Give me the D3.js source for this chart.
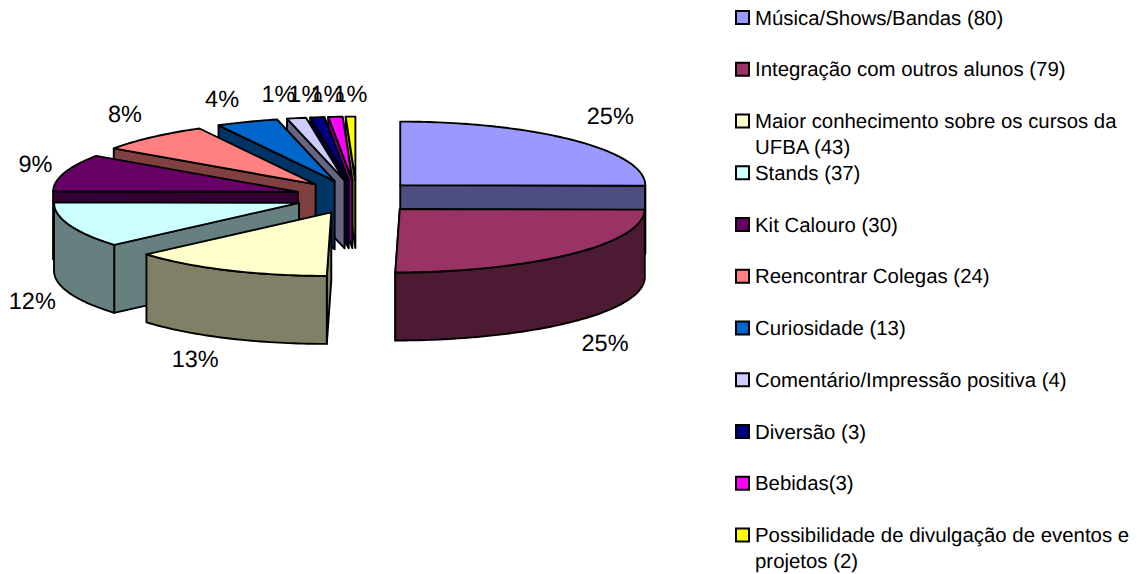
<!DOCTYPE html>
<html><head><meta charset="utf-8">
<script src="https://cdn.jsdelivr.net/npm/d3@7/dist/d3.min.js"></script>
<style>html,body{margin:0;padding:0;background:#fff}svg{display:block}text{font-family:"Liberation Sans",Arial,sans-serif;fill:#000;text-rendering:geometricPrecision}</style>
</head><body><svg id="c" width="1137" height="574"></svg>
<script>
const categories = [
  ["Música/Shows/Bandas (80)"],
  ["Integração com outros alunos (79)"],
  ["Maior conhecimento sobre os cursos da","UFBA (43)"],
  ["Stands (37)"],
  ["Kit Calouro (30)"],
  ["Reencontrar Colegas (24)"],
  ["Curiosidade (13)"],
  ["Comentário/Impressão positiva (4)"],
  ["Diversão (3)"],
  ["Bebidas(3)"],
  ["Possibilidade de divulgação de eventos e","projetos (2)"]
];
const values = [80,79,43,37,30,24,13,4,3,3,2];
const percentLabels = ["25%","25%","13%","12%","9%","8%","4%","1%","1%","1%","1%"];
const colors = ["#9999FF","#993366","#FFFFCC","#CCFFFF","#660066","#FF8080","#0066CC","#CCCCFF","#000080","#FF00FF","#FFFF00"];

// layout
const cx=356.6, cy=197, rx=245, ry=63.5, depth=68, explodeX=61.4, explodeY=16.9;
const labelNudge=[[36,-24],[34,21],[-32,21],[-37,8],[-29,-9],[-27,-23],[-25,-23],[-18,-24],[-12,-23],[-8,-23],[0,-23]];
const svg=d3.select("#c");
const PI=Math.PI;
const slices=d3.pie().sort(null).value(d=>d)(values).map((s,i)=>{
  const mid=(s.startAngle+s.endAngle)/2;
  return {i,a0:s.startAngle,a1:s.endAngle,mid,
    ax:cx+explodeX*Math.sin(mid), ay:cy-explodeY*Math.cos(mid)};
});
function rim(s,t){
  const c=Math.cos(t);
  const skew=c<0?-4.5*Math.pow(-c,4):0;
  return [s.ax+rx*Math.sin(t)+skew, s.ay-ry*c];
}
const line=d3.line();
const arcPts=(s,a,b)=>{const n=Math.max(2,Math.ceil((b-a)/0.02));
  return d3.range(n+1).map(k=>rim(s,a+(b-a)*k/n));};
const dark=c=>{const r=d3.rgb(c);return d3.rgb(Math.round(r.r/2),Math.round(r.g/2),Math.round(r.b/2)).formatHex();};

// painter's order: back-left fan from the rear forward, then the two right slices
const order=[10,9,8,7,6,5,4,3,2,0,1];
const g=svg.append("g").attr("stroke","#000").attr("stroke-width",1.9).attr("stroke-linejoin","round");
order.forEach(i=>{
  const s=slices[i], fill=colors[i], side=dark(fill);
  const apex=[s.ax,s.ay], down=p=>[p[0],p[1]+depth];
  const face=t=>{const r=rim(s,t);
    g.append("path").attr("d",line([apex,r,down(r),down(apex)])+"Z").attr("fill",side);};
  if(s.a0>=PI-1e-6) face(s.a0);
  if(s.a1<=PI+1e-6) face(s.a1);
  const w0=Math.max(s.a0,PI/2), w1=Math.min(s.a1,3*PI/2);
  if(w1>w0){
    const top=arcPts(s,w0,w1);
    g.append("path").attr("d",line(top.concat(top.slice().reverse().map(down)))+"Z").attr("fill",side);
  }
  g.append("path").attr("d",line([apex].concat(arcPts(s,s.a0,s.a1)))+"Z").attr("fill",fill);
});

// percent labels
slices.forEach(s=>{
  const r=rim(s,s.mid);
  const front=s.mid>PI/2 && s.mid<3*PI/2;
  svg.append("text").attr("x",r[0]+labelNudge[s.i][0]).attr("y",r[1]+(front?depth:0)+labelNudge[s.i][1]+8)
    .attr("text-anchor","middle").attr("font-size",23.5).text(percentLabels[s.i]);
});

// legend
const legendY=d3.scalePoint().domain(d3.range(categories.length)).range([17.5,535]);
categories.forEach((lines,i)=>{
  const y=legendY(i);
  svg.append("rect").attr("x",736).attr("y",y-6.5).attr("width",13).attr("height",13)
    .attr("fill",colors[i]).attr("stroke","#000").attr("stroke-width",2);
  lines.forEach((t,k)=>svg.append("text").attr("x",755).attr("y",y+7+k*26).attr("font-size",20.4).text(t));
});
</script></body></html>
